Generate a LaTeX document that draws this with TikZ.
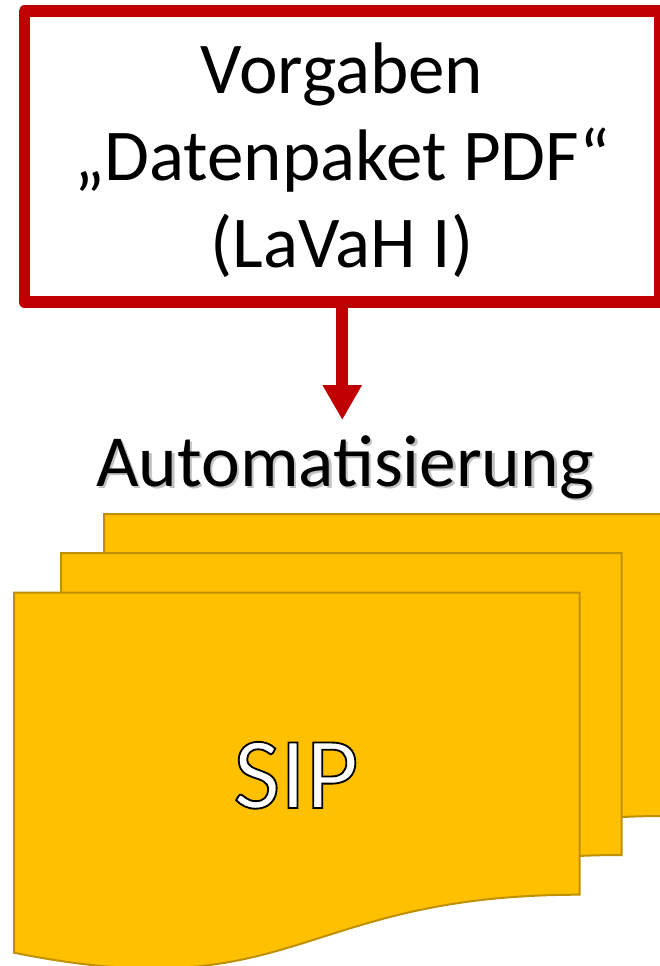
\documentclass[tikz,border=0pt]{standalone}
\usepackage{fontspec}
\setmainfont{Carlito}
\newfontfamily\sipfont[FakeBold=1.8]{Carlito}
\usetikzlibrary{arrows.meta}
\definecolor{boxred}{HTML}{C00000}
\definecolor{docfill}{HTML}{FFC000}
\definecolor{docline}{HTML}{BF9000}
\newcommand\docshape[3]{%
  \draw[doc] (#1,#2) -- (#3,#2) -- (#3,#2+302)
    .. controls ({(#1+#3)/2},#2+302) and ({(#1+#3)/2},#2+417) .. (#1,#2+360) -- cycle;}
\newcommand\outlinedtext[1]{{\color{white}\special{pdf:literal direct 0 G}#1}}
\begin{document}
\begin{tikzpicture}[x=1pt,y=-1pt,
  specbox/.style={draw=boxred, line width=11.5pt, line join=round,
    minimum width=635.5pt, minimum height=290.8pt, inner sep=0pt},
  spectext/.style={font=\fontsize{73}{87}\selectfont, align=center, inner sep=0pt},
  flow/.style={draw=boxred, line width=11.7pt, -{Triangle[width=37pt,length=35pt]}},
  bigtext/.style={font=\fontsize{73.5}{88}\selectfont, inner sep=0pt, anchor=base},
  shadowtext/.style={bigtext, text=black!70, opacity=0.35},
  doc/.style={fill=docfill, draw=docline, line width=2pt, line join=miter},
  siptext/.style={font=\sipfont\fontsize{102}{120}\selectfont, inner sep=0pt, anchor=base}]
\useasboundingbox (0,0) rectangle (659,966);
% top box
\node[specbox] (spec) at (342.25,156.6) {};
\node[spectext] (spectxt) at (342,163) {\strut Vorgaben\\\strut „Datenpaket PDF“\\\strut (LaVaH I)};
% arrow
\coordinate (tip) at (342.25,420);
\draw[flow] (spec.south) -- (tip);
% label with shadow
\node[shadowtext] (autoshadow) at (347.5,488.5) {Automatisierung};
\node[bigtext] (auto) at (345,486) {Automatisierung};
% documents
\docshape{104}{514}{666}
\docshape{61}{553}{621.7}
\docshape{14}{592.7}{579.5}
\node[siptext] (sip) at (296,808) {\outlinedtext{SIP}};
\end{tikzpicture}
\end{document}
